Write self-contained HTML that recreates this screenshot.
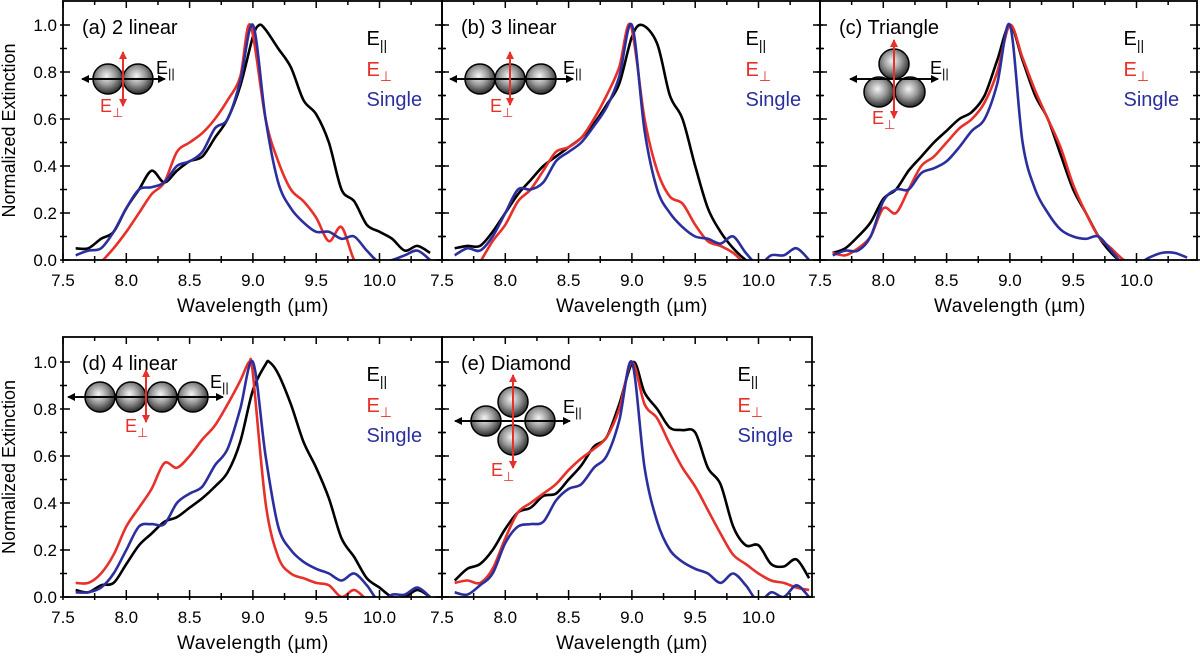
<!DOCTYPE html>
<html><head><meta charset="utf-8"><style>
html,body{margin:0;padding:0;background:#fff;}
svg{display:block;font-family:"Liberation Sans",sans-serif;}
</style></head><body>
<svg id="chart" width="1200" height="660" viewBox="0 0 1200 660">
<defs>
<radialGradient id="sph" cx="0.45" cy="0.4" r="0.6">
<stop offset="0" stop-color="#f4f4f4"/><stop offset="0.5" stop-color="#9a9a9a"/><stop offset="1" stop-color="#2a2a2a"/>
</radialGradient>
<marker id="ak" markerWidth="8" markerHeight="8" refX="7" refY="4" orient="auto" markerUnits="userSpaceOnUse"><path d="M0,0 L8,4 L0,8 Z" fill="#000"/></marker>
<marker id="ar" markerWidth="8" markerHeight="8" refX="7" refY="4" orient="auto" markerUnits="userSpaceOnUse"><path d="M0,0 L8,4 L0,8 Z" fill="#e8302a"/></marker>
</defs>
</svg>
<script>
const wl = [7.6,7.7,7.8,7.9,8.0,8.1,8.2,8.3,8.4,8.5,8.6,8.7,8.8,8.9,9.0,9.1,9.2,9.3,9.4,9.5,9.6,9.7,9.8,9.9,10.0,10.1,10.2,10.3,10.4];
const xTicks = [7.5,8.0,8.5,9.0,9.5,10.0];
const yTicks = [0.0,0.2,0.4,0.6,0.8,1.0];
const panelTitles = ["(a) 2 linear","(b) 3 linear","(c) Triangle","(d) 4 linear","(e) Diamond"];
const seriesNames = ["parallel","perpendicular","single"];
// peak wavelengths (value 1.0) per panel: [par, perp, single]
const peakA = [9.05, 8.98, 9.0];
const peakB = [9.08, 8.99, 9.0];
const peakC = [9.0, 9.0, 9.0];
const peakD = [9.13, 8.97, 9.0];
const peakE = [9.01, 9.0, 9.0];
const aPar  = [0.05,0.05,0.09,0.12,0.22,0.3,0.38,0.33,0.38,0.42,0.44,0.52,0.6,0.74,0.95,0.98,0.9,0.82,0.68,0.62,0.5,0.3,0.25,0.15,0.12,0.09,0.04,0.06,0.03];
const aPerp = [null,null,-0.01,0.05,0.12,0.2,0.28,0.33,0.46,0.5,0.54,0.6,0.68,0.78,0.97,0.6,0.42,0.3,0.25,0.18,0.08,0.14,0.0,-0.05,null,null,null,null,null];
const aSing = [0.02,0.04,0.05,0.12,0.22,0.3,0.31,0.33,0.4,0.42,0.46,0.56,0.6,0.76,0.98,0.6,0.33,0.22,0.16,0.12,0.12,0.09,0.1,0.04,-0.01,0.0,0.02,0.04,0.0];
const bPar  = [0.05,0.06,0.06,0.12,0.2,0.28,0.34,0.4,0.44,0.48,0.52,0.58,0.66,0.75,0.95,1.0,0.92,0.7,0.6,0.4,0.22,0.12,0.05,0.0,-0.03,null,null,null,null];
const bPerp = [null,null,-0.01,0.08,0.15,0.25,0.3,0.38,0.46,0.48,0.52,0.6,0.7,0.82,0.97,0.6,0.38,0.27,0.24,0.15,0.08,0.06,0.03,-0.02,null,null,null,null,null];
const bSing = [0.02,0.05,0.04,0.1,0.2,0.3,0.3,0.33,0.42,0.46,0.5,0.57,0.65,0.78,0.98,0.55,0.3,0.2,0.14,0.1,0.09,0.07,0.1,0.03,-0.02,0.02,0.02,0.05,0.0];
const cPar  = [0.03,0.05,0.1,0.16,0.26,0.3,0.38,0.44,0.5,0.55,0.6,0.63,0.7,0.85,0.98,0.85,0.7,0.6,0.45,0.3,0.2,0.1,0.03,-0.02,null,null,null,null,null];
const cPerp = [0.03,0.02,0.05,0.1,0.22,0.2,0.3,0.4,0.44,0.5,0.56,0.6,0.67,0.8,0.98,0.86,0.72,0.6,0.48,0.32,0.2,0.1,0.05,0.0,-0.02,null,null,null,null];
const cSing = [0.02,0.04,0.04,0.1,0.25,0.3,0.3,0.37,0.39,0.42,0.48,0.55,0.6,0.75,0.98,0.5,0.3,0.2,0.13,0.1,0.09,0.1,0.04,-0.02,-0.02,0.01,0.03,0.03,0.01];
const dPar  = [0.03,0.02,0.05,0.06,0.14,0.22,0.27,0.32,0.34,0.38,0.42,0.47,0.53,0.66,0.88,0.99,0.95,0.82,0.66,0.55,0.42,0.25,0.17,0.08,0.04,0.0,0.0,0.03,0.0];
const dPerp = [0.06,0.06,0.1,0.18,0.3,0.38,0.46,0.57,0.55,0.6,0.67,0.73,0.82,0.92,0.95,0.4,0.17,0.1,0.08,0.06,0.05,0.0,0.03,-0.01,-0.03,null,null,null,null];
const dSing = [0.02,0.02,0.04,0.1,0.2,0.3,0.31,0.31,0.4,0.44,0.47,0.56,0.63,0.8,0.98,0.6,0.3,0.2,0.15,0.12,0.1,0.07,0.1,0.05,-0.02,0.01,0.01,0.04,0.0];
const ePar  = [0.07,0.12,0.14,0.2,0.29,0.36,0.38,0.43,0.44,0.5,0.56,0.64,0.68,0.82,0.99,0.87,0.8,0.72,0.71,0.7,0.55,0.48,0.3,0.22,0.22,0.14,0.13,0.16,0.08];
const ePerp = [0.06,0.07,0.06,0.12,0.25,0.36,0.4,0.44,0.48,0.54,0.59,0.63,0.68,0.8,0.98,0.82,0.76,0.65,0.55,0.47,0.37,0.27,0.18,0.14,0.1,0.07,0.06,0.04,0.03];
const eSing = [0.02,0.01,0.05,0.1,0.23,0.3,0.31,0.32,0.41,0.46,0.48,0.55,0.6,0.75,0.98,0.55,0.32,0.2,0.15,0.12,0.1,0.06,0.1,0.05,-0.02,0.02,0.0,0.05,0.0];

const NS = "http://www.w3.org/2000/svg";
const svg = document.getElementById('chart');
const COLORS = ["#000000","#e8302a","#2b2f9e"];
const panels = [
 {x0:63, x1:442, top:1, base:260, series:[aPar,aPerp,aSing], peaks:peakA, yLabels:true},
 {x0:442,x1:820, top:1, base:260, series:[bPar,bPerp,bSing], peaks:peakB, yLabels:false},
 {x0:820,x1:1197,top:1, base:260, series:[cPar,cPerp,cSing], peaks:peakC, yLabels:false},
 {x0:63, x1:442, top:337, base:597, series:[dPar,dPerp,dSing], peaks:peakD, yLabels:true},
 {x0:442,x1:812, top:337, base:597, series:[ePar,ePerp,eSing], peaks:peakE, yLabels:false}
];
function el(tag, attrs, parent){const e=document.createElementNS(NS,tag);for(const k in attrs)e.setAttribute(k,attrs[k]);(parent||svg).appendChild(e);return e;}
function smooth(pts){
  if(pts.length<2)return "";
  let d="M"+pts[0][0].toFixed(1)+","+pts[0][1].toFixed(1);
  for(let i=0;i<pts.length-1;i++){
    const p0=pts[Math.max(0,i-1)],p1=pts[i],p2=pts[i+1],p3=pts[Math.min(pts.length-1,i+2)];
    const t=0.16;
    const c1=[p1[0]+(p2[0]-p0[0])*t,p1[1]+(p2[1]-p0[1])*t];
    const c2=[p2[0]-(p3[0]-p1[0])*t,p2[1]-(p3[1]-p1[1])*t];
    d+="C"+c1[0].toFixed(1)+","+c1[1].toFixed(1)+" "+c2[0].toFixed(1)+","+c2[1].toFixed(1)+" "+p2[0].toFixed(1)+","+p2[1].toFixed(1);
  }
  return d;
}
panels.forEach((p,pi)=>{
  const PXU=126.6, PYU=235;
  const X=v=>p.x0+(v-7.5)*PXU;
  const Y=v=>p.base-v*PYU;
  const g=el('g',{});
  
  
  const cid='clip'+pi;
  const cp=el('clipPath',{id:cid},g);el('rect',{x:p.x0,y:p.top,width:p.x1-p.x0,height:p.base-p.top},cp);
  // series
  p.series.forEach((vals,si)=>{
    let pts=[];
    wl.forEach((w,i)=>{if(vals[i]!==null && vals[i]!==undefined)pts.push([w,vals[i]]);});
    pts=pts.filter(q=>Math.abs(q[0]-p.peaks[si])>0.025);
    pts.push([p.peaks[si],1.0]);
    pts.sort((a,b)=>a[0]-b[0]);
    const path=el('path',{d:smooth(pts.map(q=>[X(q[0]),Y(q[1])])),fill:'none',stroke:COLORS[si],'stroke-width':2.6,'stroke-linejoin':'round','clip-path':'url(#'+cid+')'},g);
    
    
  });
  // frame
  const fr=el('rect',{x:p.x0,y:p.top,width:p.x1-p.x0,height:p.base-p.top,fill:'none',stroke:'#000','stroke-width':1.8},g);
  
  
  // x ticks
  for(let v=7.5;v<=10.55;v+=0.25){
    const x=X(v); if(x>p.x1+0.5)break;
    const major=Math.abs(v*2-Math.round(v*2))<1e-6;
    const L=major?7:4;
    el('line',{x1:x,x2:x,y1:p.base+3,y2:p.base-L,stroke:'#000','stroke-width':1.5},g);
    el('line',{x1:x,x2:x,y1:p.top,y2:p.top+L,stroke:'#000','stroke-width':1.5},g);
  }
  xTicks.forEach(v=>{
    const t=el('text',{x:X(v),y:p.base+26,'text-anchor':'middle','font-size':17},g);
    t.textContent=v.toFixed(1);
    
    
  });
  for(let v=0;v<=1.05;v+=0.1){
    const y=Y(v);const major=Math.round(v*10)%2===0;const L=major?7:4;
    el('line',{x1:p.x0-3,x2:p.x0+L,y1:y,y2:y,stroke:'#000','stroke-width':1.5},g);
    el('line',{x1:p.x1-L,x2:p.x1+3,y1:y,y2:y,stroke:'#000','stroke-width':1.5},g);
  }
  if(p.yLabels){
    yTicks.forEach(v=>{
      const t=el('text',{x:p.x0-6,y:Y(v)+6,'text-anchor':'end','font-size':17},g);
      t.textContent=v.toFixed(1);
      
      
    });
    const yt=el('text',{x:0,y:0,'text-anchor':'middle','font-size':18,transform:'translate(15,'+((p.top+p.base)/2)+') rotate(-90)'},g);
    yt.textContent='Normalized Extinction';
    
    
  }
  const xt=el('text',{x:(X(7.5)+X(10.5))/2,y:p.base+52,'text-anchor':'middle','font-size':19,'letter-spacing':'0.5'},g);
  xt.textContent='Wavelength (µm)';
  
  
  const tt=el('text',{x:p.x0+19,y:p.top+33,'font-size':20},g);
  tt.textContent=panelTitles[pi];
  
  
  // legend
  const lx=X(10.0)-13+ (pi===4?-8:0);
  const lg=el('g',{},g);
  
  
  const l1=el('text',{x:lx,y:p.top+44,'font-size':20,fill:COLORS[0]},lg);
  l1.innerHTML='E<tspan font-size="14" dy="5">||</tspan>';
  const l2=el('text',{x:lx,y:p.top+75,'font-size':20,fill:COLORS[1]},lg);
  l2.innerHTML='E<tspan font-size="14" dy="5">⊥</tspan>';
  const l3=el('text',{x:lx,y:p.top+105,'font-size':20,fill:COLORS[2]},lg);
  l3.textContent='Single';
});
// insets
function sphere(cx,cy,g){el('circle',{cx:cx,cy:cy,r:15,fill:'url(#sph)',stroke:'#000','stroke-width':1.5},g);}
function inset(name,spheres,ax1,ax2,ay,rx,ry1,ry2,parLbl,perpLbl){
  const g=el('g',{});
  
  
  spheres.forEach(s=>sphere(s[0],s[1],g));
  el('line',{x1:ax1+6,x2:ax2,y1:ay,y2:ay,stroke:'#000','stroke-width':1.8,'marker-end':'url(#ak)'},g);
  el('line',{x1:ax2-6,x2:ax1,y1:ay,y2:ay,stroke:'#000','stroke-width':1.8,'marker-end':'url(#ak)'},g);
  el('line',{x1:rx,x2:rx,y1:ry2-6,y2:ry1,stroke:'#e8302a','stroke-width':2,'marker-end':'url(#ar)'},g);
  el('line',{x1:rx,x2:rx,y1:ry1+6,y2:ry2,stroke:'#e8302a','stroke-width':2,'marker-end':'url(#ar)'},g);
  const a=el('text',{x:parLbl[0],y:parLbl[1],'font-size':18},g);a.innerHTML='E<tspan font-size="13" dy="4">||</tspan>';
  const b=el('text',{x:perpLbl[0],y:perpLbl[1],'font-size':18,fill:'#e8302a'},g);b.innerHTML='E<tspan font-size="13" dy="5">⊥</tspan>';
}
inset('inset-2-linear',[[108,79],[138,79]],82,165,79,123,52,106,[156,74],[100,112]);
inset('inset-3-linear',[[480,79],[510,79],[541,79]],450,573,79,510,52,105,[563,74],[490,112]);
inset('inset-triangle',[[894,64],[879,92],[910,92]],850,938,79,894,40,118,[930,74],[872,124]);
inset('inset-4-linear',[[100,397],[131,397],[162,397],[193,397]],68,223,397,146,370,422,[210,388],[125,432]);
inset('inset-diamond',[[513,402],[486,421],[540,421],[513,440]],455,570,421,513,375,468,[563,413],[491,476]);
</script>
</body></html>
